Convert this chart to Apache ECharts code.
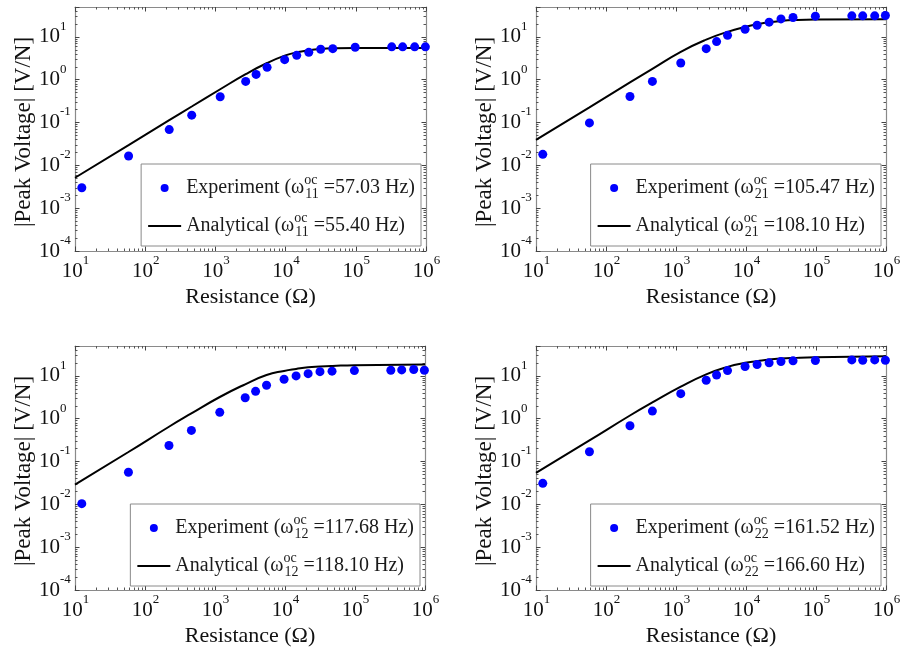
<!DOCTYPE html>
<html><head><meta charset="utf-8">
<script src="https://cdn.jsdelivr.net/npm/echarts@6/dist/echarts.min.js"></script>
<style>html,body{margin:0;padding:0;background:#fff}#c{width:900px;height:652px}</style>
</head><body><div id="c"></div>
<script>
// ---------------- data ----------------
const resExp = [12.5, 58, 220, 460, 1170, 2700, 3800, 5450, 9700, 14400, 21400, 31600, 47000, 98000, 325000, 465000, 690000, 980000];
const exp11 = [0.0030, 0.0166, 0.0686, 0.149, 0.40, 0.914, 1.33, 1.95, 2.94, 3.72, 4.37, 5.14, 5.33, 5.73, 5.86, 5.86, 5.86, 5.86];
const exp21 = [0.0181, 0.098, 0.406, 0.914, 2.46, 5.33, 7.78, 10.9, 15.1, 18.7, 22.1, 26.4, 28.4, 30.5, 31.1, 31.1, 31.1, 31.6];
const exp12 = [0.0104, 0.0562, 0.237, 0.533, 1.41, 3.10, 4.37, 6.04, 8.36, 10.0, 11.3, 12.6, 12.9, 13.3, 13.6, 13.8, 14.1, 13.6];
const exp22 = [0.031, 0.169, 0.686, 1.51, 3.86, 7.91, 10.5, 13.3, 16.6, 18.5, 20.2, 21.7, 22.5, 22.9, 23.7, 23.3, 23.7, 23.3];

const resAna = [10, 58, 220, 460, 1170, 2700, 5450, 9700, 14400, 21400, 31600, 48000, 98000, 1000000];
const ana11 = [0.00514, 0.0298, 0.114, 0.237, 0.60, 1.35, 2.46, 3.65, 4.37, 4.88, 5.23, 5.42, 5.52, 5.52];
const ana21 = [0.0393, 0.227, 0.865, 1.80, 4.50, 8.66, 13.1, 17.1, 19.7, 22.0, 23.6, 24.7, 25.5, 25.9];
const ana12 = [0.0289, 0.167, 0.65, 1.33, 3.22, 6.38, 10.5, 13.1, 14.6, 16.0, 16.6, 17.1, 17.8, 18.5];
const ana22 = [0.0542, 0.312, 1.19, 2.40, 5.62, 10.9, 16.3, 20.2, 22.1, 24.1, 25.5, 26.4, 27.4, 28.9];

const modeIdx = ['11', '21', '12', '22'];
const freqExp = ['57.03', '105.47', '117.68', '161.52'];
const freqAna = ['55.40', '108.10', '118.10', '166.60'];

const xMajor = [10, 100, 1000, 10000, 100000, 1000000];
const yMajor = [0.0001, 0.001, 0.01, 0.1, 1, 10];

const xName = 'Resistance (Ω)';
const yName = '|Peak Voltage| [V/N]';

// ---------------- layout ----------------
const FONT = '"Liberation Serif", "Times New Roman", Times, serif';
const panels = [
  { left: 75,  top: 7,   width: 351, height: 244, exp: exp11, ana: ana11, lgRight: 479, lgTop: 164 },
  { left: 536, top: 7,   width: 350, height: 244, exp: exp21, ana: ana21, lgRight: 19,  lgTop: 164 },
  { left: 75,  top: 346, width: 350, height: 244, exp: exp12, ana: ana12, lgRight: 480, lgTop: 504 },
  { left: 536, top: 346, width: 350, height: 244, exp: exp22, ana: ana22, lgRight: 19,  lgTop: 504 }
];

const AXIS_COLOR = '#8a8a8a';
const TICK_COLOR = '#444';
const TEXT_COLOR = '#111';

const richX = {
  p: { width: 1, fontSize: 13, fontFamily: FONT },
  b: { fontSize: 21, lineHeight: 34, fontFamily: FONT, color: TEXT_COLOR },
  s: { fontSize: 13, lineHeight: 13, verticalAlign: 'top', fontFamily: FONT, color: TEXT_COLOR }
};
const richY = {
  b: { fontSize: 21, lineHeight: 34, fontFamily: FONT, color: TEXT_COLOR },
  s: { fontSize: 13, lineHeight: 13, verticalAlign: 'top', fontFamily: FONT, color: TEXT_COLOR }
};
function expOf(v) { return Math.round(Math.log10(v)); }
const xLabelFmt = v => '{p| }{b|10}{s|' + expOf(v) + '}';
const yLabelFmt = v => '{b|10}{s|' + expOf(v) + '}';

const LG_COLOR = '#1a1a1a';
const richLegend = {
  b: { fontSize: 20, lineHeight: 30, fontFamily: FONT, color: LG_COLOR },
  sup: { fontSize: 14, width: 1, verticalAlign: 'top', fontFamily: FONT, color: LG_COLOR },
  sub: { fontSize: 14, verticalAlign: 'bottom', padding: [0, 0, 2, 0], fontFamily: FONT, color: LG_COLOR }
};

const xAxis = [], yAxis = [], grid = [], series = [], legend = [];
const legendText = {};

panels.forEach((p, g) => {
  grid.push({ left: p.left, top: p.top, width: p.width, height: p.height, show: false, outerBoundsMode: 'none' });
  const line = { show: true, onZero: false, lineStyle: { color: AXIS_COLOR, width: 1.2 } };
  const tick = { show: true, inside: true, length: 4.5, lineStyle: { color: TICK_COLOR, width: 1 } };
  const mtick = { show: true, splitNumber: 9, length: 2.5, lineStyle: { color: '#555', width: 1 } };
  const xb = { gridIndex: g, type: 'log', logBase: 10, min: 10, max: 1000000,
    splitLine: { show: false }, minorSplitLine: { show: false }, axisLine: line, axisTick: tick, minorTick: mtick };
  const yb = { gridIndex: g, type: 'log', logBase: 10, min: 0.0001, max: 50,
    splitLine: { show: false }, minorSplitLine: { show: false }, axisLine: line, axisTick: tick, minorTick: mtick };
  xAxis.push(
    Object.assign({}, xb, { position: 'bottom',
      axisLabel: { show: true, customValues: xMajor, margin: 3, formatter: xLabelFmt, rich: richX },
      name: xName, nameLocation: 'middle', nameGap: 35,
      nameTextStyle: { fontFamily: FONT, fontSize: 22, color: TEXT_COLOR } }),
    Object.assign({}, xb, { position: 'top', axisLabel: { show: false } })
  );
  yAxis.push(
    Object.assign({}, yb, { position: 'left',
      axisLabel: { show: true, customValues: yMajor, margin: 36, align: 'left', formatter: yLabelFmt, rich: richY },
      name: yName, nameLocation: 'middle', nameGap: 35,
      nameTextStyle: { fontFamily: FONT, fontSize: 23, color: TEXT_COLOR, padding: [0, 6, 0, 0] } }),
    Object.assign({}, yb, { position: 'right', axisLabel: { show: false } })
  );
  const mi = modeIdx[g];
  const expNm = 'exp' + mi, anaNm = 'ana' + mi;
  legendText[expNm] = '{b|Experiment (ω}{sup|oc}{sub|' + mi + '}{b| =' + freqExp[g] + ' Hz)}';
  legendText[anaNm] = '{b|Analytical (ω}{sup|oc}{sub|' + mi + '}{b| =' + freqAna[g] + ' Hz)}';
  series.push({
    name: anaNm, type: 'line', xAxisIndex: 2 * g, yAxisIndex: 2 * g,
    data: resAna.map((r, i) => [r, p.ana[i]]),
    smooth: 0.5, symbol: 'none', z: 2,
    lineStyle: { color: '#000', width: 2 }, itemStyle: { color: '#000' }
  });
  series.push({
    name: expNm, type: 'scatter', xAxisIndex: 2 * g, yAxisIndex: 2 * g,
    data: resExp.map((r, i) => [r, p.exp[i]]),
    symbol: 'circle', symbolSize: 9, z: 3,
    itemStyle: { color: '#0000ff', opacity: 1 }
  });
  legend.push({
    orient: 'vertical', right: p.lgRight, top: p.lgTop,
    padding: [9, 6, 7, 7], itemGap: 10, itemWidth: 33, itemHeight: 8,
    backgroundColor: '#fff', borderColor: '#8a8a8a', borderWidth: 1, borderRadius: 0,
    selectedMode: false,
    data: [
      { name: expNm, icon: 'circle', itemStyle: { color: '#0000ff', borderWidth: 0 } },
      { name: anaNm, icon: 'path://M0,0M0,8M0,3L33,3L33,5L0,5Z', itemStyle: { color: '#000', borderWidth: 0 } }
    ],
    formatter: name => legendText[name],
    textStyle: { fontFamily: FONT, fontSize: 20, color: LG_COLOR, rich: richLegend }
  });
});

const chart = echarts.init(document.getElementById('c'), null, { renderer: 'canvas' });
chart.setOption({
  animation: false,
  backgroundColor: '#fff',
  textStyle: { fontFamily: FONT },
  grid, xAxis, yAxis, series, legend
});
</script>
</body></html>
